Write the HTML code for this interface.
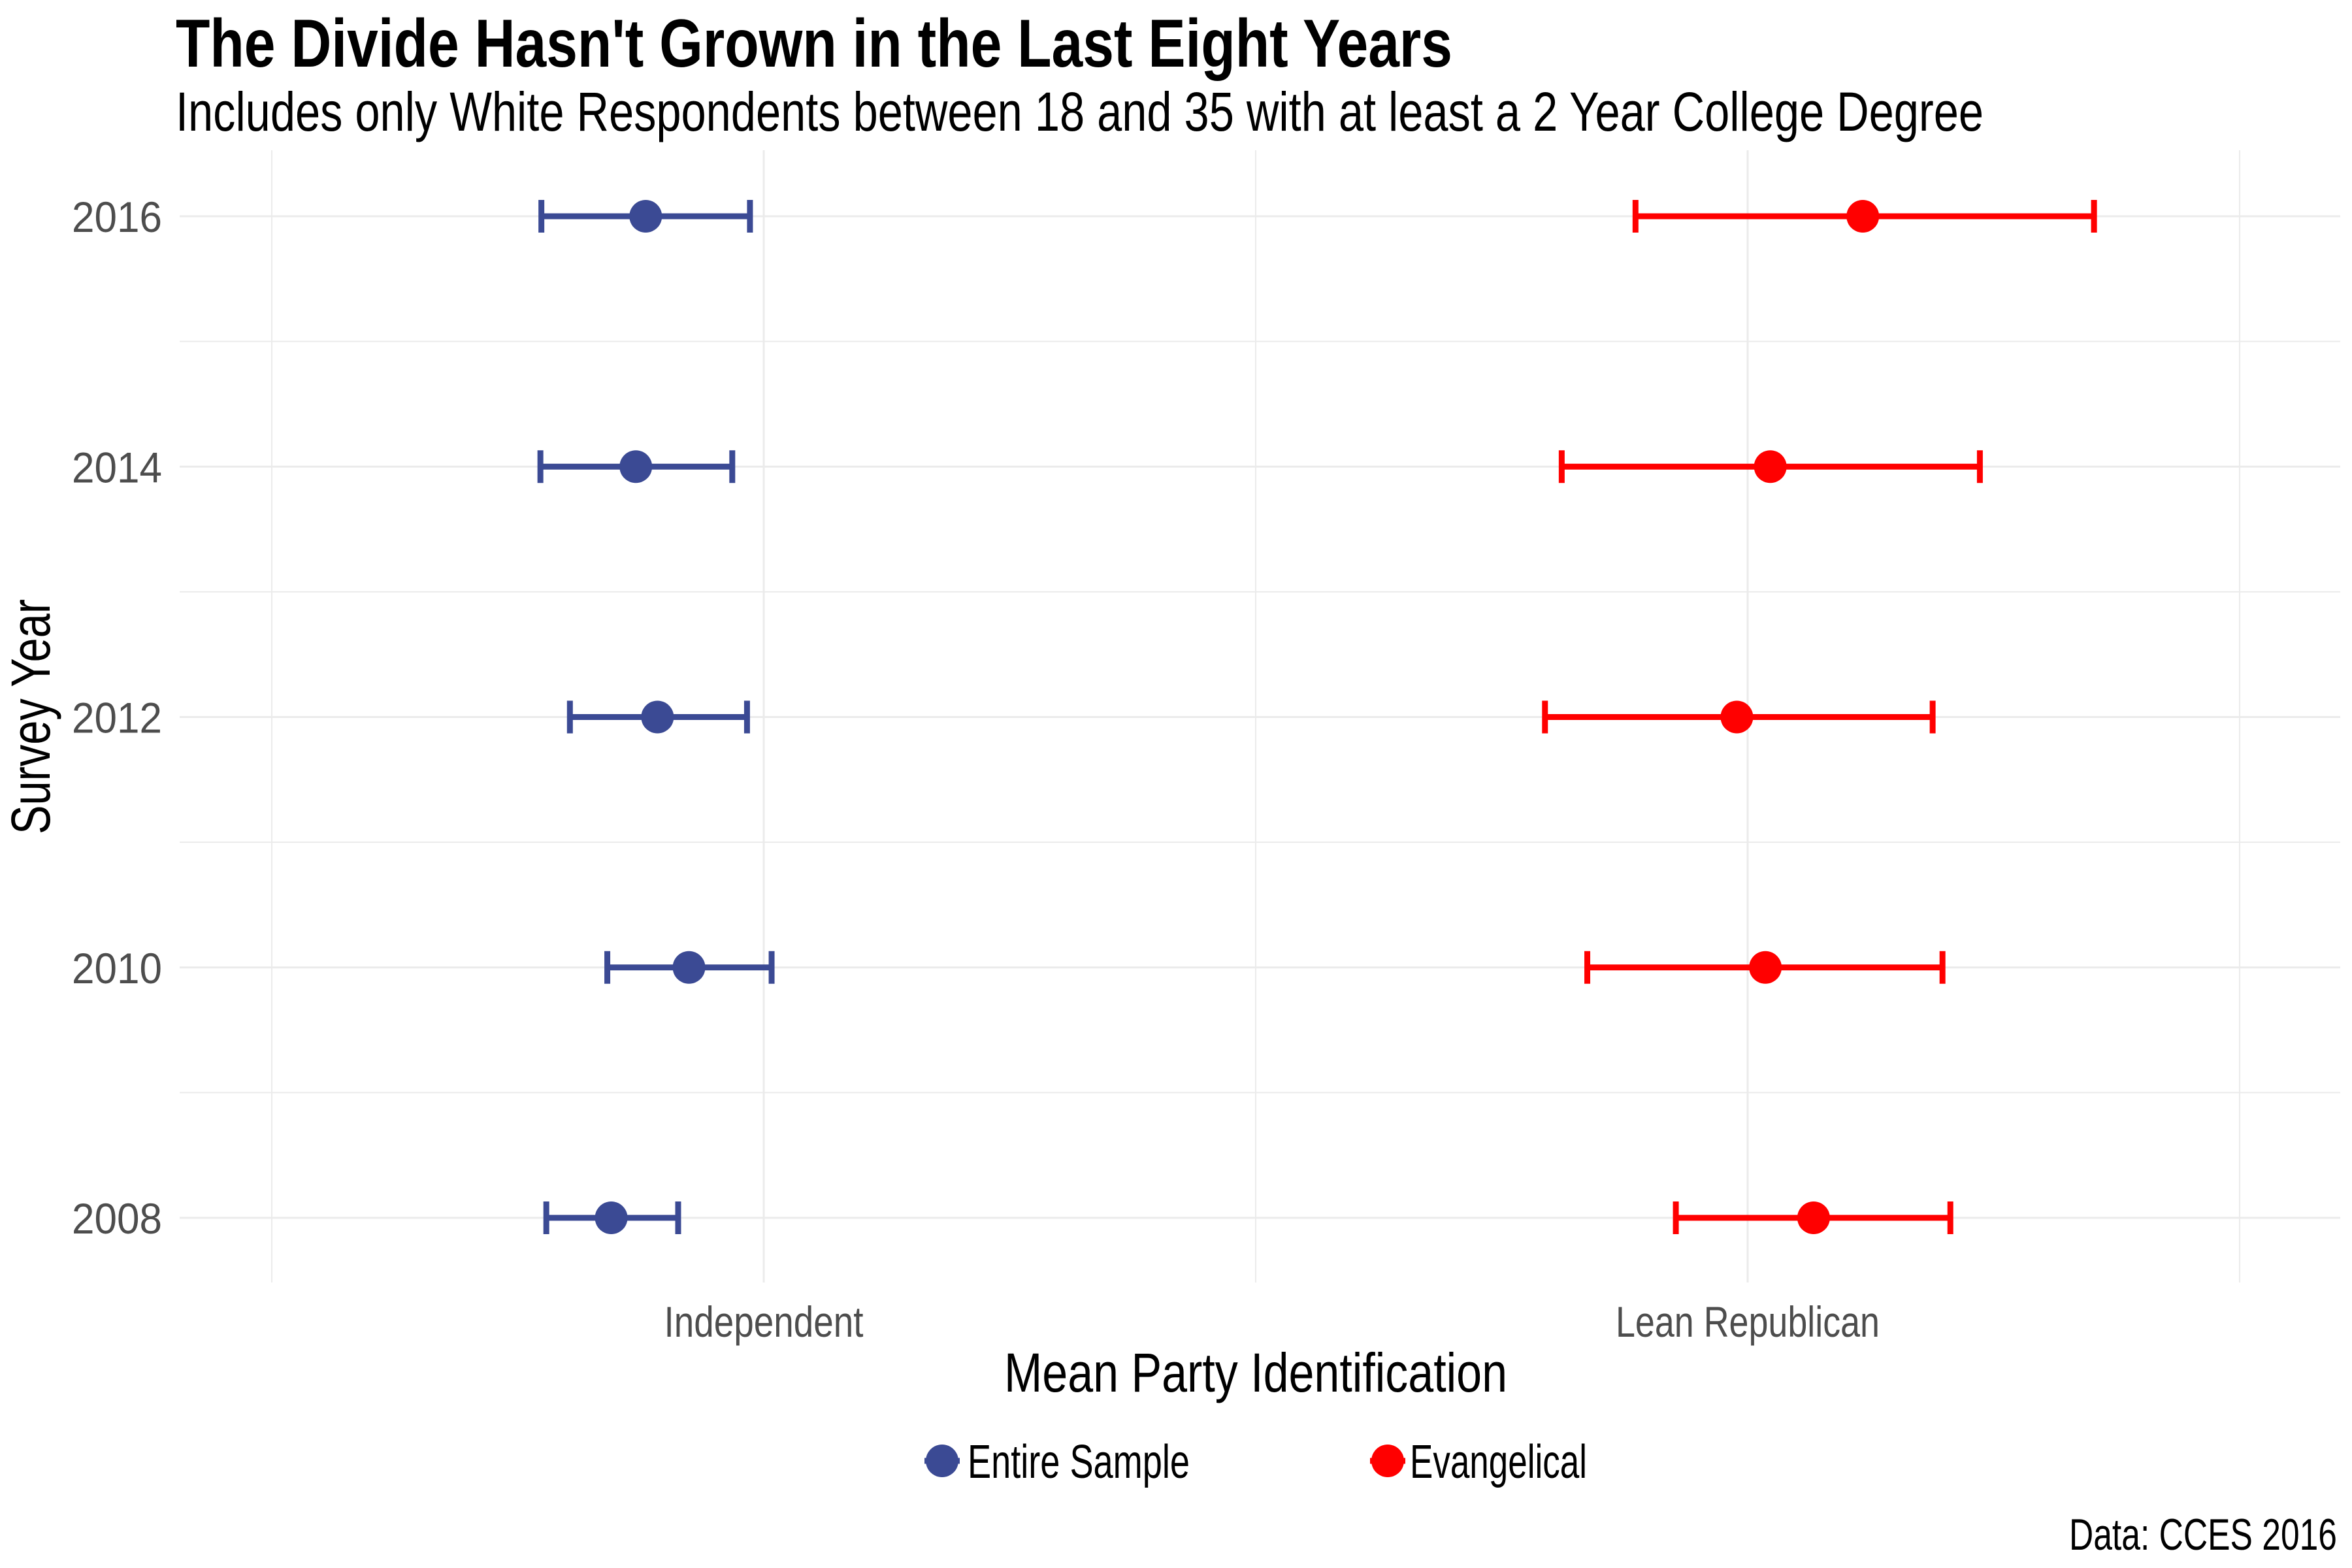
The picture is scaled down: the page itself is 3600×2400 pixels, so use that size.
<!DOCTYPE html>
<html><head><meta charset="utf-8"><style>
html,body{margin:0;padding:0;background:#fff;width:3600px;height:2400px;overflow:hidden}
svg text{font-family:"Liberation Sans Narrow","Liberation Sans",sans-serif}
</style></head><body>
<svg id="chart" width="3600" height="2400" viewBox="0 0 3600 2400" xmlns="http://www.w3.org/2000/svg">
<text x="269" y="102" font-size="104" font-weight="bold" textLength="1954" lengthAdjust="spacingAndGlyphs">The Divide Hasn't Grown in the Last Eight Years</text>
<text x="269" y="200" font-size="84" textLength="2767" lengthAdjust="spacingAndGlyphs">Includes only White Respondents between 18 and 35 with at least a 2 Year College Degree</text>
<g id="grid"></g>
<g id="marks"></g>
<g id="axes"></g>
<text x="1922" y="2130" font-size="84" text-anchor="middle" textLength="770" lengthAdjust="spacingAndGlyphs">Mean Party Identification</text>
<text transform="translate(76,1097) rotate(-90)" font-size="84" text-anchor="middle" textLength="360" lengthAdjust="spacingAndGlyphs">Survey Year</text>
<g>
<g>
<line x1="1415" y1="2236" x2="1469" y2="2236" stroke="#3B4A94" stroke-width="9"/>
<circle cx="1442" cy="2236" r="25" fill="#3B4A94"/>
<text x="1481" y="2262" font-size="72" textLength="340" lengthAdjust="spacingAndGlyphs">Entire Sample</text>
</g>
<g>
<line x1="2097" y1="2236" x2="2151" y2="2236" stroke="#FF0000" stroke-width="9"/>
<circle cx="2124" cy="2236" r="25" fill="#FF0000"/>
<text x="2158" y="2262" font-size="72" textLength="271" lengthAdjust="spacingAndGlyphs">Evangelical</text>
</g>
</g>
<text x="3577" y="2372" font-size="68" text-anchor="end" textLength="410" lengthAdjust="spacingAndGlyphs">Data: CCES 2016</text>
</svg>
<script>
const years = [2016, 2014, 2012, 2010, 2008];
const entireMean = [3.880, 3.870, 3.892, 3.924, 3.845];
const entireLow  = [3.774, 3.773, 3.803, 3.841, 3.779];
const entireHigh = [3.986, 3.968, 3.983, 4.008, 3.913];
const evanMean = [5.117, 5.023, 4.989, 5.018, 5.067];
const evanLow  = [4.886, 4.811, 4.794, 4.837, 4.927];
const evanHigh = [5.352, 5.236, 5.188, 5.198, 5.206];
const xTickValues = [4, 5];
const xTickLabels = ["Independent", "Lean Republican"];
const xMinorValues = [3.5, 4.5, 5.5];

const NS = "http://www.w3.org/2000/svg";
function xs(v){ return 1169 + (v - 4) * 1506; }
function ys(y){ return 331 + (2016 - y) / 2 * 383.25; }
const L = 275, R = 3582, T = 230, B = 1963;
function mk(tag, attrs, parent){
  const e = document.createElementNS(NS, tag);
  for (const k in attrs) e.setAttribute(k, attrs[k]);
  parent.appendChild(e); return e;
}
const grid = document.getElementById('grid');
const marks = document.getElementById('marks');
const axes = document.getElementById('axes');
years.forEach((yr, i) => {
  const g = mk('line', {x1:L, x2:R, y1:ys(yr), y2:ys(yr), stroke:'#EBEBEB', 'stroke-width':3}, grid);
  
  
  if (i < years.length - 1) {
    const m = mk('line', {x1:L, x2:R, y1:ys(yr-1), y2:ys(yr-1), stroke:'#EBEBEB', 'stroke-width':2}, grid);
    
    
  }
  const t = mk('text', {x:248, y:ys(yr)+24, 'font-size':66, 'text-anchor':'end', fill:'#4D4D4D', textLength:138, lengthAdjust:'spacingAndGlyphs'}, axes);
  t.textContent = yr;
  
  
});
xTickValues.forEach((v, i) => {
  const g = mk('line', {x1:xs(v), x2:xs(v), y1:T, y2:B, stroke:'#EBEBEB', 'stroke-width':3}, grid);
  
  
  const t = mk('text', {x:xs(v), y:2046, 'font-size':66, 'text-anchor':'middle', fill:'#4D4D4D'}, axes);
  t.textContent = xTickLabels[i];
  t.setAttribute('textLength', i === 0 ? 305 : 404);
  t.setAttribute('lengthAdjust', 'spacingAndGlyphs');
  
  
});
xMinorValues.forEach(v => {
  const g = mk('line', {x1:xs(v), x2:xs(v), y1:T, y2:B, stroke:'#EBEBEB', 'stroke-width':2}, grid);
  
  
});
function series(mean, low, high, color, name){
  years.forEach((yr, i) => {
    const y = ys(yr);
    const g = mk('g', {}, marks);
    
    
    mk('line', {x1:xs(low[i]), x2:xs(high[i]), y1:y, y2:y, stroke:color, 'stroke-width':9}, g);
    mk('line', {x1:xs(low[i]), x2:xs(low[i]), y1:y-25, y2:y+25, stroke:color, 'stroke-width':9}, g);
    mk('line', {x1:xs(high[i]), x2:xs(high[i]), y1:y-25, y2:y+25, stroke:color, 'stroke-width':9}, g);
    mk('circle', {cx:xs(mean[i]), cy:y, r:25, fill:color}, g);
  });
}
series(entireMean, entireLow, entireHigh, '#3B4A94', 'entire-sample-point');
series(evanMean, evanLow, evanHigh, '#FF0000', 'evangelical-point');
</script>
</body></html>
